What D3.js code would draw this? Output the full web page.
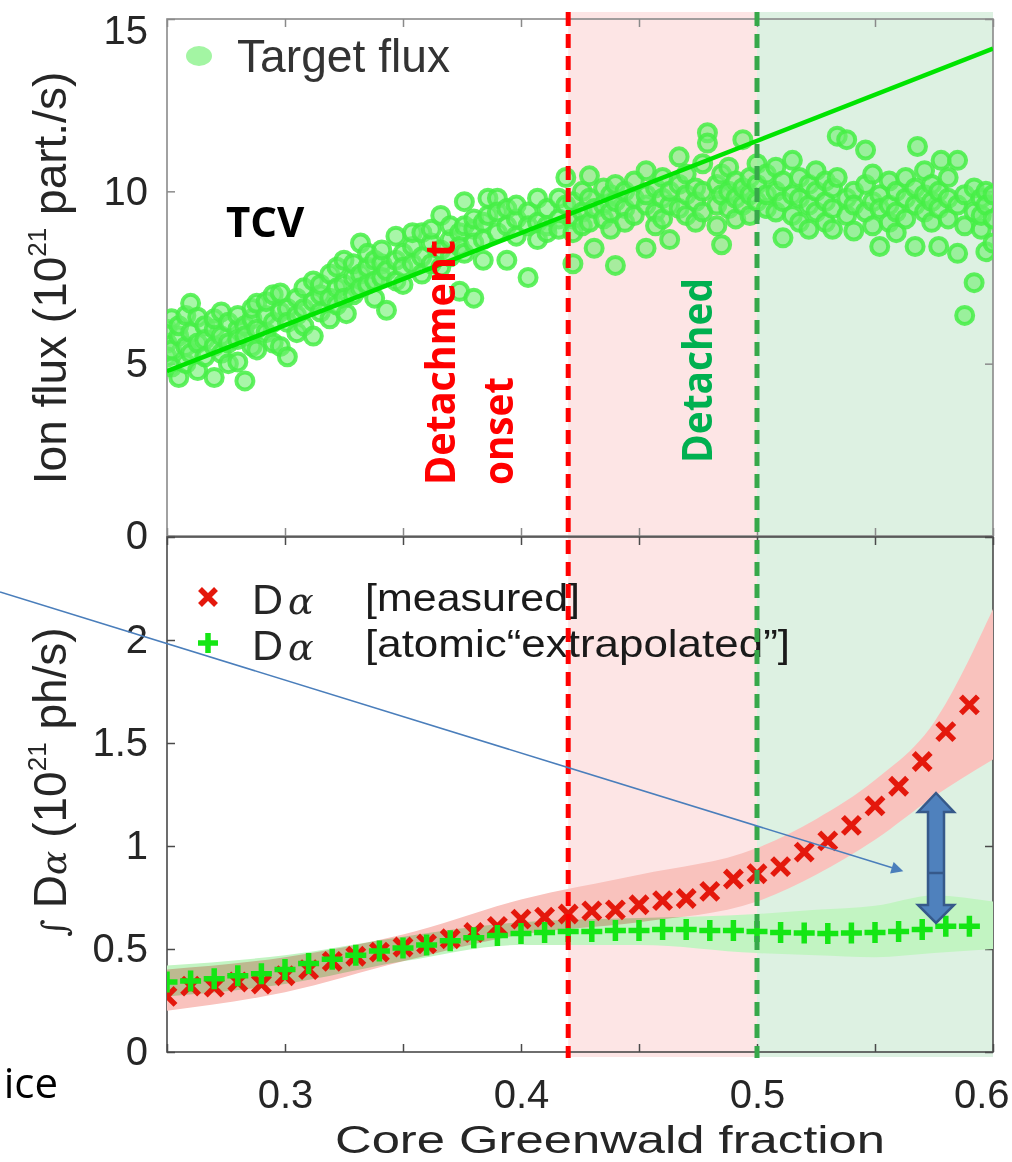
<!DOCTYPE html>
<html>
<head>
<meta charset="utf-8">
<script src="https://cdn.jsdelivr.net/npm/d3@7"></script>
<style>
body { margin: 0; background: #fff; }
svg { display: block; }
</style>
</head>
<body>
<script>
// ---- data ----
var gwFrac = [0.25,0.26,0.27,0.28,0.29,0.30,0.31,0.32,0.33,0.34,0.35,0.36,0.37,0.38,0.39,0.40,0.41,0.42,
              0.43,0.44,0.45,0.46,0.47,0.48,0.49,0.50,0.51,0.52,0.53,0.54,0.55,0.56,0.57,0.58,0.59];
var daMeasured = [0.27,0.32,0.315,0.34,0.33,0.37,0.40,0.44,0.465,0.485,0.51,0.525,0.55,0.58,0.61,0.645,0.655,0.67,
                  0.685,0.69,0.715,0.735,0.745,0.78,0.84,0.865,0.90,0.97,1.025,1.10,1.195,1.29,1.41,1.555,1.685];
var daAtomic = [0.34,0.345,0.355,0.37,0.38,0.40,0.43,0.45,0.47,0.49,0.505,0.52,0.54,0.555,0.565,0.575,0.58,0.585,
                0.585,0.59,0.59,0.595,0.595,0.59,0.59,0.585,0.58,0.578,0.575,0.578,0.58,0.585,0.595,0.61,0.61];

var bandX     = [0.25,0.30,0.35,0.40,0.45,0.50,0.525,0.55,0.575,0.60];
var measHigh  = [0.40,0.46,0.57,0.74,0.86,0.99,1.13,1.32,1.60,2.15];
var measLow   = [0.20,0.29,0.44,0.57,0.63,0.73,0.86,1.03,1.24,1.42];
var atomHigh  = [0.42,0.47,0.56,0.63,0.65,0.67,0.69,0.71,0.76,0.73];
var atomLow   = [0.27,0.33,0.44,0.52,0.52,0.48,0.47,0.46,0.48,0.50];

var fitX = [0.25, 0.60];
var fitY = [4.78, 14.14];

// target flux cloud: [x, y1, y2, ...]
var fluxGroups = [
  [0.250,5.6,6.0,5.2],[0.252,6.3,5.4,4.9],[0.255,5.8,4.6,6.1],[0.258,5.5,6.4,5.0],
  [0.260,6.75,5.9,5.3],[0.263,6.35,5.6,4.8],[0.266,6.1,5.7,5.2],[0.270,6.0,4.6,5.5,6.3],
  [0.273,5.8,5.3,6.5],[0.276,6.2,5.6,5.0],[0.280,5.05,6.0,6.4,5.7],[0.283,4.5,6.1,5.8],
  [0.286,6.3,5.5,6.6],[0.288,6.75,6.0,5.4],[0.292,6.4,5.9,6.8],[0.295,6.2,5.6,7.0],
  [0.298,7.05,6.5,5.5],[0.301,5.2,6.6,6.2],[0.305,6.9,6.4,5.9],[0.308,7.2,6.6,6.1],
  [0.312,6.8,7.4,5.8],[0.315,7.0,6.5,7.3],[0.319,7.6,6.9,6.3],[0.322,7.2,6.7,7.8],
  [0.325,8.0,7.3,6.9],[0.326,6.45],[0.329,7.5,7.0,7.9],[0.332,8.5,7.6,7.2],
  [0.335,7.8,7.3,8.2],[0.338,7.4,8.0,6.9],[0.341,7.9,8.3,7.5],[0.343,6.55,7.7],
  [0.347,8.7,8.0,7.4],[0.350,8.2,7.8,7.3],[0.354,8.4,7.9,8.8],[0.358,8.8,8.1,7.6],
  [0.362,8.5,7.9,8.9],[0.366,9.3,8.3,7.8],[0.370,8.6,8.1,9.0],[0.374,7.1,8.8,8.4],
  [0.376,9.7,9.0,8.2],[0.380,6.9,8.9,8.5,9.2],[0.384,9.1,8.6,8.0],[0.386,9.8,9.3],
  [0.390,9.8,8.8,9.4],[0.394,8.0,9.0,9.5],[0.398,9.2,8.7,9.6],[0.403,7.5,9.4,9.0],
  [0.407,9.8,9.1,8.6],[0.411,9.5,9.0,8.8],[0.416,9.8,9.2,8.9],[0.419,10.4,9.6],
  [0.422,9.7,9.2,7.9,8.8],[0.426,10.0,9.4,9.0],[0.429,10.45,9.8,9.1],[0.431,8.35,9.5],
  [0.435,10.1,9.6,9.2],[0.438,9.9,9.4,8.9],[0.440,7.85,9.7,10.2],[0.444,9.5,10.0,9.1],
  [0.448,9.8,9.3,10.3],[0.453,10.6,8.35,9.6,9.9],[0.457,9.4,10.1,9.0],[0.460,9.8,10.4,9.2],
  [0.463,8.6,9.6,10.0],[0.467,11.0,10.2,9.5],[0.470,9.9,9.3,10.5],[0.474,10.1,9.7,9.1],
  [0.477,10.8,10.0,9.4],[0.479,11.7,11.4],[0.483,10.2,9.6,9.0],[0.485,8.45,10.5,9.9],
  [0.488,10.0,9.5,10.7],[0.491,10.3,9.8,9.2],[0.494,11.5,10.1,9.6],[0.497,10.4,9.9,9.3],
  [0.500,10.2,9.7,10.8],[0.504,9.5,10.5,9.9],[0.508,10.0,9.4,10.7],[0.511,8.65,10.3,9.7],
  [0.515,10.9,9.9,9.3],[0.518,10.4,9.8,9.1],[0.522,9.6,10.2,8.9],[0.525,10.0,9.4,10.6],
  [0.529,9.7,10.3,9.1],[0.532,10.1,9.5,8.9],[0.534,11.6,10.4],[0.538,11.5,9.8,9.3],
  [0.541,8.85,10.0,9.6],[0.546,11.2,9.4,10.2],[0.549,9.7,9.0,10.5],[0.552,8.4,9.9,9.5],
  [0.556,10.3,9.6,9.1],[0.559,8.8,10.0,9.4],[0.563,9.8,10.4,9.2],[0.567,8.4,9.6,10.1],
  [0.568,11.3],[0.571,9.9,9.4,10.6],[0.574,10.2,9.1,9.7],[0.577,8.4,10.0,9.5],
  [0.578,10.9],[0.581,9.8,9.2,10.4],[0.585,10.9,8.2,9.6],[0.588,6.4,9.9,9.0],
  [0.592,7.35,10.1,9.4],[0.595,9.8,8.9,9.3],[0.597,8.25,10.0,9.6],[0.600,9.2,8.5,9.9]
];

var xTicks = [0.25,0.30,0.35,0.40,0.45,0.50,0.55,0.60];
var xLabels = [0.3,0.4,0.5,0.6];
var fluxTicks = [0,5,10,15];
var daTicks = [0,0.5,1,1.5,2,2.5];
var daLabels = [0,0.5,1,1.5,2];
var onsetX = 0.42, detachedX = 0.50;

// ---- layout ----
var W = 1012, H = 1162;
var left = 167, right = 993;
var topT = 19, topB = 536, botT = 537, botB = 1052;
var font = "'Liberation Sans', Arial, sans-serif";

var svg = d3.select("body").append("svg")
    .attr("width", W).attr("height", H);

var x = d3.scaleLinear().domain([0.25, 0.60]).range([left, right]);
var yFlux = d3.scaleLinear().domain([0, 15]).range([topB, topT]);
var yDa = d3.scaleLinear().domain([0, 2.5]).range([botB, botT]);

var defs = svg.append("defs");
defs.append("clipPath").attr("id", "clipTop")
  .append("rect").attr("x", left).attr("y", topT).attr("width", right - left).attr("height", topB - topT);
defs.append("clipPath").attr("id", "clipBot")
  .append("rect").attr("x", left).attr("y", botT).attr("width", right - left).attr("height", botB - botT);
defs.append("marker").attr("id", "blueHead")
    .attr("viewBox", "0 0 10 10").attr("refX", 1).attr("refY", 5)
    .attr("markerWidth", 14).attr("markerHeight", 12).attr("markerUnits", "userSpaceOnUse")
    .attr("orient", "auto")
  .append("path").attr("d", "M0,0 L10,5 L0,10 Z").attr("fill", "#4a7ebb");

// shaded regimes
svg.append("rect")
    .attr("x", x(onsetX)).attr("y", 12)
    .attr("width", x(detachedX) - x(onsetX)).attr("height", 1057 - 12)
    .attr("fill", "#fde5e5");
svg.append("rect")
    .attr("x", x(detachedX)).attr("y", 12)
    .attr("width", x(0.60) - x(detachedX)).attr("height", 1057 - 12)
    .attr("fill", "#ddf1e2");

// ---- axes ----
function fmt(d) { return d3.format("")(d); }

function drawAxes(yScale, yT, yB, ticks, labels, col) {
  var g = svg.append("g");
  var xb = g.append("g").attr("transform", "translate(0," + yB + ")")
    .call(d3.axisBottom(x).tickValues(xTicks).tickSize(-8).tickSizeOuter(0).tickPadding(28)
      .tickFormat(function(d) { return (yB === botB && xLabels.some(function(v){return Math.abs(v-d)<1e-9;})) ? fmt(d) : ""; }));
  g.append("g").attr("transform", "translate(0," + yT + ")")
    .call(d3.axisTop(x).tickValues(xTicks).tickSize(-8).tickSizeOuter(0).tickFormat(""));
  var yl = g.append("g").attr("transform", "translate(" + left + ",0)")
    .call(d3.axisLeft(yScale).tickValues(ticks).tickSize(-8).tickSizeOuter(0).tickPadding(19)
      .tickFormat(function(d) { return labels.indexOf(d) >= 0 ? fmt(d) : ""; }));
  g.append("g").attr("transform", "translate(" + right + ",0)")
    .call(d3.axisRight(yScale).tickValues(ticks).tickSize(-8).tickSizeOuter(0).tickFormat(""));
  g.selectAll(".domain").remove();
  g.selectAll(".tick line").attr("stroke", col).attr("stroke-width", 1.5);
  g.selectAll("text").attr("font-family", font).attr("font-size", 40).attr("fill", "#262626");
  // keep the end labels inside the picture
  xb.selectAll(".tick text").filter(function(d) { return d === 0.60; })
    .attr("text-anchor", "end").attr("x", 16);
  yl.selectAll(".tick text").filter(function(d) { return d === 15; }).attr("dy", "0.62em");
  g.append("rect").attr("x", left).attr("y", yT).attr("width", right - left).attr("height", yB - yT)
    .attr("fill", "none").attr("stroke", col).attr("stroke-width", 1.6);
}
drawAxes(yFlux, topT, topB, fluxTicks, fluxTicks, "#8a8a8a");
drawAxes(yDa, botT, botB, daTicks, daLabels, "#4a4a4a");

// ---- top panel: target flux ----
var pts = [];
fluxGroups.forEach(function(g) {
  for (var i = 1; i < g.length; i++) pts.push({x: g[0], y: g[i]});
});
var gTop = svg.append("g").attr("clip-path", "url(#clipTop)");
gTop.selectAll("circle.flux").data(pts).enter().append("circle")
    .attr("class", "flux")
    .attr("cx", function(d) { return x(d.x); })
    .attr("cy", function(d) { return yFlux(d.y); })
    .attr("r", 8.5)
    .attr("fill", "#6ef06e").attr("fill-opacity", 0.6)
    .attr("stroke", "#45ee45").attr("stroke-opacity", 0.85).attr("stroke-width", 4);

gTop.append("path")
    .datum(d3.zip(fitX, fitY))
    .attr("d", d3.line().x(function(d) { return x(d[0]); }).y(function(d) { return yFlux(d[1]); }))
    .attr("stroke", "#00e400").attr("stroke-width", 4.5).attr("fill", "none");

// legend top
svg.append("ellipse").attr("cx", 199).attr("cy", 56).attr("rx", 13).attr("ry", 10).attr("fill", "#a3f5a3");
svg.append("text").attr("x", 237).attr("y", 72).text("Target flux")
    .attr("font-family", font).attr("font-size", 46).attr("fill", "#333")
    .attr("textLength", 213).attr("lengthAdjust", "spacingAndGlyphs");

// ---- bottom panel: D alpha ----
var gBot = svg.append("g").attr("clip-path", "url(#clipBot)");
var bandArea = function(lo, hi) {
  return d3.area().curve(d3.curveMonotoneX)
    .x(function(d, i) { return x(bandX[i]); })
    .y0(function(d, i) { return yDa(lo[i]); })
    .y1(function(d, i) { return yDa(hi[i]); });
};
gBot.append("path").datum(bandX).attr("d", bandArea(atomLow, atomHigh))
    .attr("fill", "#c2f4c2").style("mix-blend-mode", "multiply");
gBot.append("path").datum(bandX).attr("d", bandArea(measLow, measHigh))
    .attr("fill", "#f9c2bd").style("mix-blend-mode", "multiply");

var cross = function(cx, cy, s) {
  return "M" + (cx - s) + "," + (cy - s) + "L" + (cx + s) + "," + (cy + s) +
         "M" + (cx - s) + "," + (cy + s) + "L" + (cx + s) + "," + (cy - s);
};
var plus = function(cx, cy, s) {
  return "M" + (cx - s) + "," + cy + "L" + (cx + s) + "," + cy +
         "M" + cx + "," + (cy - s) + "L" + cx + "," + (cy + s);
};

gBot.selectAll("path.meas").data(gwFrac).enter().append("path")
    .attr("class", "meas")
    .attr("d", function(d, i) { return cross(x(d), yDa(daMeasured[i]), 8.5); })
    .attr("stroke", "#e4180c").attr("stroke-width", 5.5).attr("fill", "none");
gBot.selectAll("path.atom").data(gwFrac).enter().append("path")
    .attr("class", "atom")
    .attr("d", function(d, i) { return plus(x(d), yDa(daAtomic[i]), 10.5); })
    .attr("stroke", "#14e614").attr("stroke-width", 5.5).attr("fill", "none");

// legend bottom
svg.append("path").attr("d", cross(208, 597, 8)).attr("stroke", "#e4180c").attr("stroke-width", 5.5);
svg.append("path").attr("d", plus(208, 643, 10)).attr("stroke", "#14e614").attr("stroke-width", 5.5);
[[614, "[measured]", 215], [660, "[atomic\u201Cextrapolated\u201D]", 425]].forEach(function(r) {
  var t = svg.append("text").attr("x", 252).attr("y", r[0]).attr("fill", "#262626");
  t.append("tspan").text("D").attr("font-family", font).attr("font-size", 43);
  t.append("tspan").text("\u03B1").attr("dx", 5).attr("font-family", "'DejaVu Serif', serif")
    .attr("font-style", "italic").attr("font-size", 38);
  svg.append("text").attr("x", 365).attr("y", r[0] - 3).text(r[1])
    .attr("font-family", font).attr("font-size", 39).attr("fill", "#1a1a1a")
    .attr("textLength", r[2]).attr("lengthAdjust", "spacingAndGlyphs");
});

// ---- regime markers ----
[[onsetX, "#ff0000"], [detachedX, "#37a84a"]].forEach(function(v) {
  svg.append("line").attr("x1", x(v[0])).attr("x2", x(v[0])).attr("y1", 12).attr("y2", 1058)
    .attr("stroke", v[1]).attr("stroke-width", 5).attr("stroke-dasharray", "14,8");
});

function vtext(tx, ty, str, col, len) {
  svg.append("text").attr("transform", "translate(" + tx + "," + ty + ") rotate(-90)")
    .text(str).attr("font-family", "'Open Sans', sans-serif").attr("font-weight", "bold")
    .attr("font-size", 41).attr("fill", col)
    .attr("textLength", len).attr("lengthAdjust", "spacingAndGlyphs");
}
vtext(455, 485, "Detachment", "#ff0000", 245);
vtext(513, 485, "onset", "#ff0000", 108);
vtext(712, 463, "Detached", "#00b050", 185);

svg.append("text").attr("x", 226).attr("y", 237).text("TCV")
    .attr("font-family", "'Open Sans', sans-serif").attr("font-weight", "bold")
    .attr("font-size", 42).attr("fill", "#000");

// ---- axis titles ----
var yl1 = svg.append("text").attr("transform", "translate(66,278) rotate(-90)")
    .attr("text-anchor", "middle").attr("font-family", font).attr("font-size", 46).attr("fill", "#262626");
yl1.append("tspan").text("Ion flux (10");
yl1.append("tspan").text("21").attr("font-size", 26).attr("dy", -20);
yl1.append("tspan").text(" part./s)").attr("dy", 20);

var yl2 = svg.append("text").attr("transform", "translate(66,782) rotate(-90)")
    .attr("text-anchor", "middle").attr("font-family", font).attr("font-size", 46).attr("fill", "#262626");
yl2.append("tspan").text("\u222B ").attr("font-family", "'DejaVu Serif', serif").attr("font-size", 34);
yl2.append("tspan").text("D");
yl2.append("tspan").text("\u03B1").attr("font-family", "'DejaVu Serif', serif").attr("font-style", "italic").attr("font-size", 36);
yl2.append("tspan").text(" (10");
yl2.append("tspan").text("21").attr("font-size", 26).attr("dy", -20);
yl2.append("tspan").text(" ph/s)").attr("dy", 20);

svg.append("text").attr("x", 610).attr("y", 1153).attr("text-anchor", "middle")
    .text("Core Greenwald fraction").attr("font-family", font).attr("font-size", 38).attr("fill", "#262626")
    .attr("textLength", 550).attr("lengthAdjust", "spacingAndGlyphs");

svg.append("text").attr("x", 58).attr("y", 1098).attr("text-anchor", "end").text("ice")
    .attr("font-family", "'Open Sans', sans-serif").attr("font-size", 42).attr("fill", "#000");

// ---- annotation arrows ----
svg.append("line").attr("x1", 0).attr("y1", 592).attr("x2", 893).attr("y2", 868)
    .attr("stroke", "#4a7ebb").attr("stroke-width", 1.6).attr("marker-end", "url(#blueHead)");

svg.append("path")
    .attr("d", "M936,793 L954,812 L944,812 L944,905 L954,905 L936,923 L918,905 L928,905 L928,812 L918,812 Z")
    .attr("fill", "#4f81bd").attr("stroke", "#36598a").attr("stroke-width", 2.5);
svg.append("line").attr("x1", 928).attr("x2", 944).attr("y1", 873).attr("y2", 873)
    .attr("stroke", "#36598a").attr("stroke-width", 2.5);
</script>
</body>
</html>
